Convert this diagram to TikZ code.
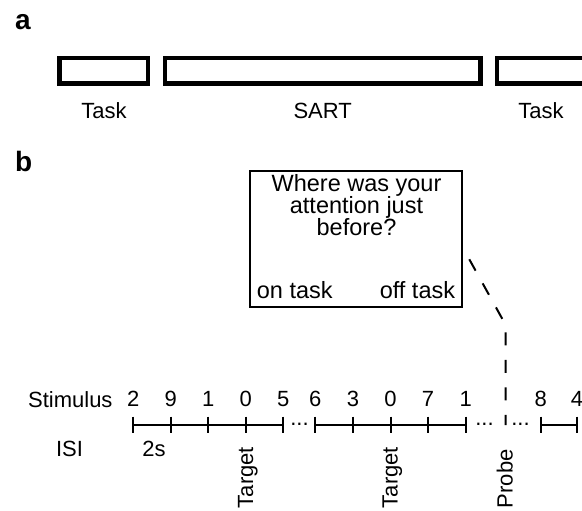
\documentclass[tikz,border=0pt]{standalone}
\usepackage{fontspec}
\setmainfont{Liberation Sans}
\usetikzlibrary{positioning}

\tikzset{
  every node/.style={inner sep=0pt, font=\fontsize{22}{26}\selectfont},
  panel/.style={font=\fontsize{28}{30}\selectfont\bfseries, anchor=base west},
  blockbox/.style={draw, line width=4.5pt, minimum height=25.5pt},
  probebox/.style={draw, line width=2pt},
  qtext/.style={font=\fontsize{23.5}{26}\selectfont, anchor=base},
  probeline/.style={line width=2pt, dash pattern=on 13pt off 14.5pt},
  event/.style={rotate=90, anchor=base west}
}

\begin{document}
\begin{tikzpicture}[x=1pt, y=-1pt]
      \useasboundingbox (0,0) rectangle (582,511);
      \clip (0,0) rectangle (582,511);

      % panel a: blocks
      \node[panel] (a) at (15,29.3) {a};
      \node[blockbox, minimum width=88.3pt] (task1) at (103.6,71) {};
      \node[blockbox, minimum width=315.6pt] (sart) at (322.7,71) {};
      \node[blockbox, minimum width=200pt] (task2) at (597.2,71) {};
      \node[anchor=base] (task1 lbl) at (104,118.3) {Task};
      \node[anchor=base] (sart lbl) at (322.7,118.3) {SART};
      \node[anchor=base] (task2 lbl) at (541,118.3) {Task};

      % panel b: thought probe
      \node[panel] (b) at (15,171.7) {b};
      \node[probebox, minimum width=212.5pt, minimum height=136.5pt] (probe box) at (356.2,239.2) {};
      \node[qtext] (q1) at (356.5,191.7) {Where was your};
      \node[qtext] (q2) at (356.5,213.6) {attention just};
      \node[qtext] (q3) at (356.5,235.3) {before?};
      \node[qtext, anchor=base west] (on task) at (256.7,298.3) {on task};
      \node[qtext, anchor=base east] (off task) at (455.3,298.3) {off task};

      % timeline
      \node[anchor=base east] (stim) at (112.7,407.3) {Stimulus};
      \node[anchor=base] (isi) at (69.5,456.7) {ISI};
      \node[anchor=base] (isi val) at (154,456.7) {2s};
      \draw[line width=2pt] (133.3,424.5) -- (283.3,424.5);
      \draw[line width=2pt] (315.3,424.5) -- (465.7,424.5);
      \draw[line width=2pt] (540.7,424.5) -- (577,424.5);
      \foreach \x in {133.3,170.8,208.3,245.8,283.3,315.3,352.9,390.5,428.1,465.7,540.7,577} % tick marks
      \draw[shift={(\x,424.5)}, line width=2pt] (0,-8) -- (0,8);
      \foreach \x/\d in {133.3/2,170.8/9,208.3/1,245.8/0,283.3/5,315.3/6,352.9/3,390.5/0,428.1/7,465.7/1,540.7/8,577/4}
      \node[anchor=base] at (\x,406.7) {\d};
      \node[anchor=base] (gap1) at (299.5,425.5) {...};
      \node[anchor=base] (gap2) at (484.5,425.5) {...};
      \node[anchor=base] (gap3) at (520.5,425.5) {...};

      % probe connector
      \coordinate (probe start) at (469.3,259.3);
      \coordinate (probe bend) at (505.7,325);
      \coordinate (probe time) at (505.7,425);
      \draw[probeline] (probe start) -- (probe bend) -- (probe time);

      \node[event] (target1) at (253,508.3) {Target};
      \node[event] (target2) at (397.7,508.3) {Target};
      \node[event] (probe lbl) at (512.7,508.3) {Probe};
\end{tikzpicture}
\end{document}
